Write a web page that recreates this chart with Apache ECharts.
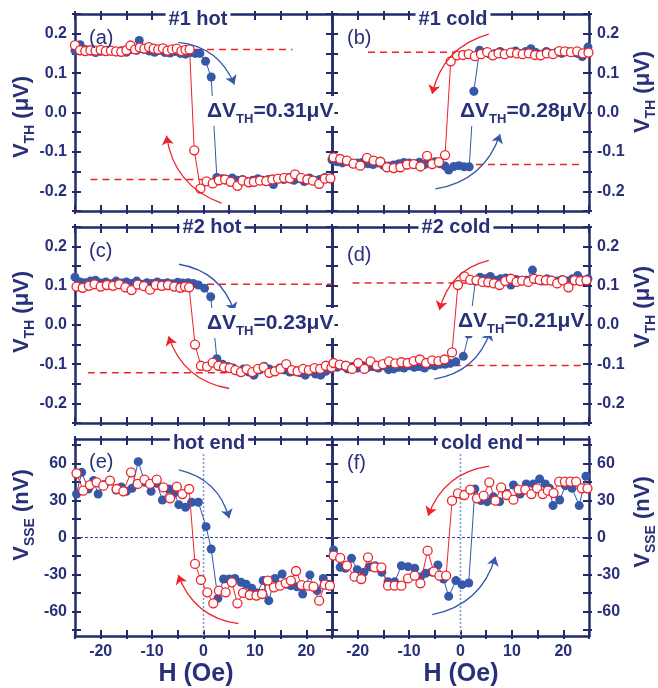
<!DOCTYPE html>
<html><head><meta charset="utf-8">
<script src="https://cdn.jsdelivr.net/npm/echarts@6/dist/echarts.min.js"></script>
<style>html,body{margin:0;padding:0;background:#fff}#c{width:658px;height:688px}</style>
</head><body><div id="c"></div>
<script>
// ---------------- data ----------------
const hMin = -25, hMax = 25;
const xTickLabels = [-20, -10, 0, 10, 20];
const vthTickLabels = [-0.2, -0.1, 0, 0.1, 0.2];
const sseTickLabels = [-60, -30, 0, 30, 60];
const sseTicks = [-75, -60, -45, -30, -15, 0, 15, 30, 45, 60, 75];

const aBlue = [[-25,0.157],[-24,0.172],[-23,0.160],[-22,0.156],[-21,0.152],[-20,0.155],[-19,0.158],[-18,0.156],[-17,0.154],[-16,0.157],[-15,0.153],[-14,0.160],[-13,0.158],[-12.5,0.183],[-11.5,0.160],[-10.5,0.156],[-9.5,0.153],[-8.5,0.158],[-7.5,0.152],[-6.5,0.151],[-5.5,0.155],[-4.5,0.150],[-3.5,0.148],[-2.5,0.152],[-1.6,0.150],[-0.7,0.150],[0.4,0.130],[1.5,0.090],[2.6,-0.165],[3.6,-0.168],[4.6,-0.170],[5.6,-0.166],[6.6,-0.172],[7.6,-0.170],[8.6,-0.175],[9.6,-0.172],[10.6,-0.168],[11.6,-0.172],[12.6,-0.170],[13.6,-0.183],[14.6,-0.168],[15.6,-0.170],[16.6,-0.165],[17.6,-0.172],[18.6,-0.168],[19.6,-0.175],[20.6,-0.166],[21.6,-0.172],[22.6,-0.170],[23.6,-0.165],[24.6,-0.168]];
const aRed = [[-25,0.171],[-24,0.158],[-23,0.156],[-22,0.158],[-21,0.157],[-20,0.159],[-19,0.156],[-18,0.157],[-17,0.155],[-16,0.154],[-15,0.158],[-14.2,0.170],[-13.3,0.160],[-12.4,0.165],[-11.5,0.162],[-10.6,0.166],[-9.7,0.162],[-8.8,0.160],[-7.9,0.163],[-7,0.157],[-6.1,0.160],[-5.2,0.162],[-4.3,0.156],[-3.5,0.159],[-2.7,0.160],[-1.8,-0.096],[-0.6,-0.193],[0.6,-0.175],[1.8,-0.180],[3.0,-0.172],[4.2,-0.170],[5.3,-0.176],[6.6,-0.186],[7.6,-0.173],[8.8,-0.177],[9.8,-0.176],[11,-0.173],[12.2,-0.174],[13.4,-0.170],[14.5,-0.168],[15.7,-0.166],[16.8,-0.167],[17.8,-0.157],[19,-0.166],[20.2,-0.170],[21.3,-0.173],[22.5,-0.181],[23.6,-0.168],[24.7,-0.167]];

const bBlue = [[-25,-0.120],[-24,-0.125],[-23,-0.128],[-22,-0.124],[-21,-0.130],[-20,-0.128],[-19,-0.126],[-18,-0.130],[-17,-0.132],[-16,-0.128],[-15,-0.134],[-14,-0.136],[-13,-0.133],[-12,-0.130],[-11,-0.127],[-10,-0.128],[-9,-0.130],[-8,-0.126],[-7,-0.132],[-6,-0.128],[-5,-0.125],[-4,-0.130],[-3,-0.136],[-2.3,-0.146],[-1.3,-0.137],[-0.3,-0.135],[0.7,-0.138],[1.7,-0.138],[2.6,0.054],[3.7,0.158],[4.7,0.152],[5.7,0.148],[6.7,0.150],[7.7,0.155],[8.7,0.148],[9.7,0.152],[10.7,0.156],[11.7,0.150],[12.7,0.155],[13.7,0.162],[14.7,0.152],[15.7,0.148],[16.7,0.155],[17.7,0.150],[18.7,0.153],[19.7,0.150],[20.7,0.155],[21.7,0.152],[22.7,0.150],[23.7,0.142],[24.8,0.166]];
const bRed = [[-24.7,-0.114],[-23.4,-0.118],[-22.1,-0.122],[-20.8,-0.130],[-19.5,-0.135],[-18.2,-0.115],[-16.9,-0.122],[-15.6,-0.125],[-14.3,-0.139],[-13,-0.141],[-11.7,-0.139],[-10.4,-0.132],[-9.1,-0.131],[-7.8,-0.137],[-6.5,-0.110],[-5.5,-0.131],[-4.2,-0.126],[-3.0,-0.108],[-1.9,0.130],[-0.7,0.145],[0.5,0.146],[1.6,0.148],[2.8,0.143],[4.0,0.148],[5.2,0.153],[6.3,0.145],[7.4,0.150],[8.6,0.148],[9.8,0.152],[11,0.150],[12.1,0.148],[13.3,0.150],[14.5,0.146],[15.6,0.145],[16.8,0.150],[18,0.148],[19.2,0.156],[20.3,0.155],[21.5,0.153],[22.7,0.155],[23.8,0.150],[24.9,0.152]];

const cBlue = [[-25,0.122],[-24,0.110],[-23,0.108],[-22,0.112],[-21,0.114],[-20,0.107],[-19,0.110],[-18,0.105],[-17,0.112],[-16,0.107],[-15,0.110],[-14,0.106],[-13,0.112],[-12,0.104],[-11,0.108],[-10,0.106],[-9,0.110],[-8,0.106],[-7,0.108],[-6,0.105],[-5,0.109],[-4,0.107],[-3,0.108],[-2,0.106],[-1,0.102],[0.2,0.094],[1.4,0.072],[2.6,-0.086],[3.7,-0.100],[4.8,-0.106],[5.8,-0.110],[6.8,-0.118],[7.8,-0.112],[8.8,-0.120],[9.8,-0.128],[10.8,-0.115],[11.8,-0.105],[12.8,-0.112],[13.8,-0.118],[14.8,-0.110],[15.8,-0.115],[16.8,-0.120],[17.8,-0.118],[18.8,-0.122],[19.8,-0.128],[20.8,-0.118],[21.8,-0.125],[22.8,-0.128],[23.8,-0.118],[24.8,-0.112]];
const cRed = [[-24.7,0.098],[-23.5,0.095],[-22.3,0.100],[-21.2,0.104],[-20,0.098],[-18.8,0.102],[-17.6,0.100],[-16.4,0.104],[-15.2,0.096],[-14,0.089],[-12.8,0.103],[-11.6,0.099],[-10.4,0.090],[-9.3,0.102],[-8.1,0.100],[-6.9,0.102],[-5.7,0.098],[-4.5,0.095],[-3.6,0.098],[-2.8,0.096],[-1.65,-0.050],[-0.5,-0.104],[0.7,-0.106],[1.8,-0.096],[2.9,-0.104],[4.0,-0.108],[5.1,-0.110],[6.2,-0.115],[7.3,-0.120],[8.4,-0.113],[9.5,-0.120],[10.6,-0.112],[11.7,-0.108],[12.8,-0.122],[13.9,-0.118],[15,-0.112],[16.1,-0.100],[17.2,-0.115],[18.3,-0.118],[19.4,-0.112],[20.5,-0.115],[21.6,-0.110],[22.7,-0.112],[23.8,-0.104],[24.9,-0.108]];

const dBlue = [[-25,-0.100],[-24,-0.108],[-23,-0.104],[-22,-0.112],[-21,-0.106],[-20,-0.110],[-19,-0.104],[-18,-0.108],[-17,-0.106],[-16,-0.110],[-15,-0.104],[-14,-0.114],[-13,-0.112],[-12,-0.108],[-11,-0.110],[-10,-0.104],[-9,-0.108],[-8,-0.106],[-7,-0.110],[-6,-0.102],[-5,-0.104],[-4,-0.100],[-3,-0.100],[-2,-0.098],[-0.9,-0.094],[0.55,-0.080],[1.6,-0.023],[2.9,0.112],[3.8,0.122],[4.8,0.118],[5.8,0.124],[6.8,0.114],[7.8,0.118],[8.8,0.120],[9.8,0.102],[10.8,0.116],[11.8,0.112],[12.8,0.114],[14.0,0.140],[14.8,0.116],[15.8,0.112],[16.8,0.118],[17.8,0.114],[18.8,0.112],[19.8,0.116],[20.8,0.112],[21.8,0.118],[22.8,0.126],[23.8,0.114],[24.8,0.118]];
const dRed = [[-24.7,-0.097],[-23.5,-0.101],[-22.3,-0.104],[-21.1,-0.112],[-19.9,-0.097],[-18.7,-0.112],[-17.5,-0.093],[-16.3,-0.104],[-15.1,-0.100],[-13.9,-0.093],[-12.7,-0.098],[-11.5,-0.095],[-10.3,-0.097],[-9.1,-0.092],[-7.9,-0.088],[-6.7,-0.097],[-5.5,-0.090],[-4.3,-0.092],[-3.1,-0.088],[-1.65,-0.070],[-0.5,0.102],[0.75,0.124],[1.9,0.115],[3.1,0.114],[4.3,0.110],[5.4,0.109],[6.5,0.106],[7.6,0.102],[8.7,0.112],[9.8,0.118],[10.9,0.110],[12,0.113],[13.2,0.110],[14.3,0.118],[15.4,0.115],[16.6,0.114],[17.7,0.113],[18.8,0.106],[19.9,0.114],[21,0.096],[22.2,0.114],[23.3,0.112],[24.5,0.114]];

const eBlue = [[-24.7,35.3],[-23.7,52.9],[-22.4,39.4],[-21.4,46.2],[-20.5,35.3],[-19.3,43],[-18.2,46.2],[-17,38.5],[-16,41],[-15,37.5],[-13.9,40],[-12.7,61.6],[-11.4,44.8],[-10.2,37.5],[-9.1,44],[-8,30.5],[-6.7,39.4],[-5.7,36],[-4.8,26.7],[-3.5,24.5],[-2.3,28.6],[-1,28.6],[0.5,8.8],[1.5,-9.3],[2.8,-49.4],[3.9,-33.7],[5,-33.7],[6.1,-33.2],[7.3,-36.4],[8.3,-38],[9.4,-41.3],[10.5,-45],[11.6,-35],[12.7,-51.3],[13.9,-33.2],[15.3,-29.6],[16.2,-38],[17,-39.1],[18.2,-40],[19.3,-45.9],[20.7,-30.4],[21.4,-40],[22.1,-43.2],[23.3,-33.2],[24.5,-38]];
const eRed = [[-24.7,52.1],[-23.4,38],[-22.1,42.6],[-20.8,44.8],[-19.5,42.1],[-18.2,46.2],[-16.9,39.4],[-15.6,37.5],[-14.1,52.9],[-12.8,43.5],[-11.5,47],[-10.4,43.5],[-9.1,47],[-7.8,40.7],[-6.5,31.8],[-5.2,41.3],[-4.1,35.3],[-2.8,39.4],[-1.65,-21.5],[-0.5,-34.5],[0.75,-44.5],[1.9,-53.5],[3,-43.2],[4.3,-44.5],[5.5,-36.4],[6.6,-53.5],[7.7,-45],[9,-46.7],[10.3,-47.2],[11.4,-45.9],[12.5,-35],[13.7,-40.5],[14.9,-39.1],[16,-37],[17,-35],[18,-27.2],[19.1,-38.6],[20.3,-39.1],[21.4,-39.9],[22.5,-51.3],[23.6,-38.3],[24.6,-39.1]];

const fBlue = [[-24.7,-10.1],[-23.4,-24.2],[-22.4,-25],[-21.2,-16.9],[-20.1,-26.1],[-18.8,-28.3],[-17.7,-24],[-16.6,-22.9],[-15.3,-28.3],[-14.1,-35.9],[-12.8,-36],[-11.5,-22.9],[-10.2,-23.7],[-8.9,-25],[-7.8,-32],[-6.8,-29.1],[-5.6,-28],[-4.4,-22.3],[-3.3,-33.7],[-2.3,-47.8],[-0.9,-35],[0.3,-38.3],[1.6,-37],[2.8,39.4],[4,30],[5.2,29.1],[6.4,33],[7.6,29.1],[8.9,36],[10.3,42.6],[11.6,35.3],[12.8,43.5],[14.2,43.5],[15.4,47.5],[16.5,43.5],[17.3,40],[18,25.9],[19.3,30.5],[20.4,42.1],[21.7,40],[23.1,25.9],[24.4,49.7]];
const fRed = [[-24.7,-14.7],[-23.4,-16.6],[-22.1,-22.9],[-20.6,-31.8],[-19.3,-33.7],[-18,-16.1],[-16.7,-24.2],[-15.4,-24.2],[-14.1,-39.1],[-12.8,-39.1],[-11.5,-39.1],[-10.2,-33.2],[-8.9,-31],[-7.8,-37.2],[-6.4,-10.7],[-5.2,-27.7],[-4.1,-31],[-2.8,-31],[-1.65,29.9],[-0.5,35.9],[0.75,34.5],[1.9,38.9],[3.2,31.8],[4.5,34],[5.6,44.8],[6.8,29.9],[7.9,40.7],[9,34.5],[10.3,30.7],[11.3,38.9],[12.6,38.9],[13.8,35.3],[14.9,39.9],[16,35.3],[17,38],[18.1,36.1],[19.2,45.3],[20.3,45.3],[21.4,45.3],[22.5,45.3],[23.6,39.9],[24.7,39.9]];

// reference levels: [fromH, toH, level]
const aRef = [[-25, 17.3, 0.160], [-22, 25, -0.170]];
const bRef = [[-18, 25, 0.153], [-18, 23.5, -0.132]];
const cRef = [[-18, 25, 0.104], [-22.5, 22, -0.122]];
const dRef = [[-21, 24.5, 0.107], [-20, 23.5, -0.103]];

// sweep arrows: [fromH, fromV, toH, toV, bend]
const aArrowUp = [-4.9, 0.178, 6.0, 0.071, 0.3],  aArrowDown = [3.5, -0.230, -7.2, -0.059, 0.3];
const bArrowDown = [5.5, 0.199, -5.5, 0.047, -0.3], bArrowUp = [-4.9, -0.194, 7.7, -0.055, -0.3];
const cArrowUp = [-4.8, 0.155, 6.0, 0.034, 0.3],  cArrowDown = [5.0, -0.162, -6.8, -0.029, 0.3];
const dArrowDown = [5.5, 0.165, -4.1, 0.038, -0.3], dArrowUp = [-5.1, -0.138, 5.8, -0.016, -0.3];
const eArrowUp = [-4.8, 55, 5.0, 15.6, 0.3],      eArrowDown = [6.8, -70, -4.9, -30.4, 0.3];
const fArrowDown = [5.6, 58, -6.3, 17.7, -0.3],   fArrowUp = [-5.5, -62.7, 6.8, -15.6, -0.3];

// ---------------- styling / layout ----------------
const NAVY = '#222a6c', TXT = '#29307a', BLUE = '#3558a8', RED = '#ee2229';
const FONT = '"Liberation Sans", Arial, sans-serif';

const panels = [
  {grid:{left:75, top:14, width:257, height:197}, kind:'vth', side:'left',  bottom:false, blue:aBlue, red:aRed, refs:aRef, arrows:[aArrowUp, aArrowDown]},
  {grid:{left:332,top:14, width:257, height:197}, kind:'vth', side:'right', bottom:false, blue:bBlue, red:bRed, refs:bRef, arrows:[bArrowUp, bArrowDown]},
  {grid:{left:75, top:227,width:257, height:196}, kind:'vth', side:'left',  bottom:false, blue:cBlue, red:cRed, refs:cRef, arrows:[cArrowUp, cArrowDown]},
  {grid:{left:332,top:227,width:257, height:196}, kind:'vth', side:'right', bottom:false, blue:dBlue, red:dRed, refs:dRef, arrows:[dArrowUp, dArrowDown]},
  {grid:{left:75, top:439,width:257, height:197}, kind:'sse', side:'left',  bottom:true,  blue:eBlue, red:eRed, refs:[], arrows:[eArrowUp, eArrowDown]},
  {grid:{left:332,top:439,width:257, height:197}, kind:'sse', side:'right', bottom:true,  blue:fBlue, red:fRed, refs:[], arrows:[fArrowUp, fArrowDown]}
];

const grids = [], xAxes = [], yAxes = [], series = [];
const labelStyle = {color: TXT, fontFamily: FONT, fontWeight: 'bold', fontSize: 16};

function vthFmt(v) {
  const r = Math.round(v * 100);
  if (r % 10 !== 0 || Math.abs(r) > 20) return '';
  return (r / 100).toFixed(1);
}

panels.forEach((p, i) => {
  grids.push(Object.assign({containLabel: false}, p.grid));
  const line = {show: true, onZero: false, lineStyle: {color: NAVY, width: 2.5}};
  const xBase = {type: 'value', gridIndex: i, min: hMin, max: hMax, interval: 5, splitLine: {show: false}};
  const mk = (base, pos, inside, showLine, labels) => Object.assign({}, base, {
    position: pos,
    axisLine: showLine ? line : {show: false, onZero: false},
    axisTick: {show: true, inside: inside, length: inside ? 6 : 3, lineStyle: {color: NAVY, width: 2}},
    axisLabel: labels
  });
  const xLab = {show: p.bottom, margin: 8, ...labelStyle,
    formatter: v => xTickLabels.includes(Math.round(v)) && Math.abs(v - Math.round(v)) < 1e-6 ? String(Math.round(v)) : ''};
  xAxes.push(mk(xBase, 'bottom', true, true, xLab));
  xAxes.push(mk(xBase, 'bottom', false, false, {show: false}));
  xAxes.push(mk(xBase, 'top', true, true, {show: false}));
  xAxes.push(mk(xBase, 'top', false, false, {show: false}));

  let yBase;
  if (p.kind === 'vth') {
    yBase = {type: 'value', gridIndex: i, min: -0.25, max: 0.25, interval: 0.05, splitLine: {show: false}};
  } else {
    yBase = {type: 'value', gridIndex: i, min: -80, max: 80, splitLine: {show: false}};
  }
  const yLabFor = (show) => {
    if (!show) return {show: false};
    if (p.kind === 'vth') return {show: true, margin: 8, ...labelStyle, formatter: vthFmt};
    return {show: true, margin: 8, ...labelStyle, customValues: sseTickLabels, formatter: v => String(Math.round(v))};
  };
  const mkY = (pos, inside, showLine, labShow) => {
    const a = mk(yBase, pos, inside, showLine, yLabFor(labShow));
    if (p.kind === 'sse') a.axisTick.customValues = sseTicks;
    return a;
  };
  yAxes.push(mkY('left', true, true, p.side === 'left'));
  yAxes.push(mkY('left', false, false, false));
  yAxes.push(mkY('right', true, true, p.side === 'right'));
  yAxes.push(mkY('right', false, false, false));

  const xi = i * 4, yi = i * 4;
  // reference dashed lines
  p.refs.forEach(r => {
    series.push({type: 'line', xAxisIndex: xi, yAxisIndex: yi, data: [[r[0], r[2]], [r[1], r[2]]],
      symbol: 'none', lineStyle: {color: RED, width: 1.5, type: [7, 5]}, z: 1, silent: true});
  });
  if (p.kind === 'sse') {
    series.push({type: 'line', xAxisIndex: xi, yAxisIndex: yi, data: [[hMin, 0], [hMax, 0]],
      symbol: 'none', lineStyle: {color: '#2c4aa0', width: 1, type: [3, 2]}, z: 1, silent: true});
    series.push({type: 'line', xAxisIndex: xi, yAxisIndex: yi, data: [[0, -80], [0, 80]],
      symbol: 'none', lineStyle: {color: '#7d95d0', width: 1.5, type: [2, 2]}, z: 1, silent: true});
  }
  series.push({type: 'line', xAxisIndex: xi, yAxisIndex: yi, data: p.blue, symbol: 'circle', symbolSize: 9,
    itemStyle: {color: BLUE}, lineStyle: {color: BLUE, width: 1}, z: 3});
  series.push({type: 'line', xAxisIndex: xi, yAxisIndex: yi, data: p.red, symbol: 'circle', symbolSize: 9,
    itemStyle: {color: '#fff', borderColor: RED, borderWidth: 1.3}, lineStyle: {color: RED, width: 1}, z: 4});
  // sweep arrows
  series.push({type: 'lines', coordinateSystem: 'cartesian2d', xAxisIndex: xi, yAxisIndex: yi,
    symbol: ['none', 'arrow'], symbolSize: 9, z: 5, silent: true,
    data: p.arrows.map((a, k) => ({coords: [[a[0], a[1]], [a[2], a[3]]],
      lineStyle: {color: k === 0 ? BLUE : RED, width: 1.3, curveness: a[4], opacity: 1}}))});
});

// ---------------- text annotations ----------------
const gfx = [];
function title(t, x, y) {
  gfx.push({type: 'text', x, y, z: 100, style: {text: t, fill: TXT, fontFamily: FONT, fontWeight: 'bold', fontSize: 20,
    align: 'center', verticalAlign: 'middle', backgroundColor: '#fff', padding: [0, 3]}});
}
function tag(t, x, y) {
  gfx.push({type: 'text', x, y, z: 100, style: {text: t, fill: TXT, fontFamily: FONT, fontSize: 20,
    align: 'left', verticalAlign: 'middle'}});
}
function delta(v, x, y) {
  gfx.push({type: 'text', x, y, z: 100, style: {
    text: '{m|ΔV}{s|TH}{m|=' + v + 'μV}', align: 'left', verticalAlign: 'middle', backgroundColor: '#fff', padding: [0, 1],
    rich: {m: {fill: TXT, fontFamily: FONT, fontWeight: 'bold', fontSize: 21, lineHeight: 30},
           s: {fill: TXT, fontFamily: FONT, fontWeight: 'bold', fontSize: 13, padding: [15, 0, 0, 0], verticalAlign: 'bottom'}}}});
}
function ylab(sub, unit, x, y) {
  gfx.push({type: 'text', x, y, rotation: Math.PI / 2, z: 100, style: {
    text: '{m|V}{s|' + sub + '}{m| (' + unit + ')}', align: 'center', verticalAlign: 'middle',
    rich: {m: {fill: TXT, fontFamily: FONT, fontWeight: 'bold', fontSize: 22, lineHeight: 30},
           s: {fill: TXT, fontFamily: FONT, fontWeight: 'bold', fontSize: 14, padding: [14, 0, 0, 0], verticalAlign: 'bottom'}}}});
}
function xlab(x, y) {
  gfx.push({type: 'text', x, y, z: 100, style: {text: 'H (Oe)', fill: TXT, fontFamily: FONT, fontWeight: 'bold', fontSize: 25,
    align: 'center', verticalAlign: 'middle'}});
}

title('#1 hot', 198, 19); title('#1 cold', 453, 19);
title('#2 hot', 212, 227); title('#2 cold', 456, 227);
title('hot end', 209, 443); title('cold end', 482, 443);
tag('(a)', 89, 38); tag('(b)', 347, 38); tag('(c)', 89, 251);
tag('(d)', 347, 255); tag('(e)', 89, 462); tag('(f)', 347, 463);
delta('0.31', 206, 111); delta('0.28', 459, 111);
delta('0.23', 206, 323); delta('0.21', 457, 321);
ylab('TH', 'μV', 22, 117); ylab('TH', 'μV', 643, 92);
ylab('TH', 'μV', 22, 312); ylab('TH', 'μV', 643, 307);
ylab('SSE', 'nV', 22, 515); ylab('SSE', 'nV', 643, 522);
xlab(196, 674); xlab(461, 674);

const chart = echarts.init(document.getElementById('c'), null, {renderer: 'canvas'});
chart.setOption({
  animation: false,
  backgroundColor: '#fff',
  grid: grids, xAxis: xAxes, yAxis: yAxes, series: series, graphic: gfx
});
</script>
</body></html>
